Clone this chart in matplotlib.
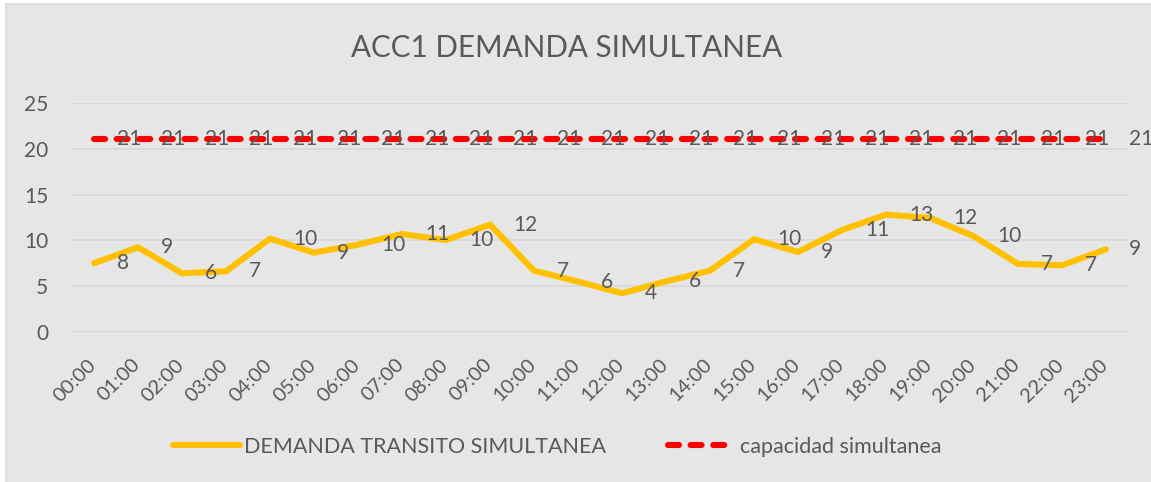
import matplotlib
matplotlib.use("Agg")
import matplotlib.pyplot as plt
from matplotlib.patches import Rectangle
from matplotlib.transforms import ScaledTranslation

hours = ["00:00", "01:00", "02:00", "03:00", "04:00", "05:00", "06:00", "07:00",
         "08:00", "09:00", "10:00", "11:00", "12:00", "13:00", "14:00", "15:00",
         "16:00", "17:00", "18:00", "19:00", "20:00", "21:00", "22:00", "23:00"]
demanda = [7.52, 9.26, 6.43, 6.64, 10.2, 8.67, 9.55, 10.7, 10.05, 11.72, 6.71, 5.52,
           4.25, 5.55, 6.71, 10.13, 8.75, 11.14, 12.81, 12.45, 10.45, 7.44, 7.3, 9.04]
capacidad = [21] * 24
yticks = [0, 5, 10, 15, 20, 25]

title = "ACC1 DEMANDA SIMULTANEA"
name_dem = "DEMANDA TRANSITO SIMULTANEA"
name_cap = "capacidad simultanea"

TXT = "#595959"
BG = "#e7e6e6"
GRID = "#d9d9d9"
FONT = "Lato"

plt.rcParams['font.family'] = [FONT, 'DejaVu Sans']

W, H = 1151, 482
fig = plt.figure(figsize=(W / 100, H / 100), dpi=100, facecolor="white")
fig.patches.append(Rectangle((6 / W, -0.1), 1.2, 1.1 - 4 / H, transform=fig.transFigure,
                             facecolor=BG, edgecolor=GRID, linewidth=1.2, zorder=-10))

ax = fig.add_axes([72 / W, 1 - 332.3 / H, (1128 - 72) / W, (332.3 - 102.7) / H])
ax.patch.set_visible(False)
x = list(range(len(hours)))

ax.plot(x, demanda, color="#FFC000", lw=4.4, solid_capstyle="round",
        solid_joinstyle="round", label=name_dem, zorder=3)
ax.plot(x, capacidad, color="#FF0000", lw=4.4, dashes=(1.8, 1.9),
        dash_capstyle="round", label=name_cap, zorder=3)

for xi, v in zip(x, demanda):
    ax.annotate(f"{round(v):d}", (xi, v), xytext=(23, 0), textcoords="offset pixels",
                ha="left", va="center", fontsize=15, color=TXT, zorder=5,
                annotation_clip=False)
for xi, v in zip(x, capacidad):
    ax.annotate(f"{v:d}", (xi, v), xytext=(23, 0), textcoords="offset pixels",
                ha="left", va="center", fontsize=15, color=TXT, zorder=5,
                annotation_clip=False)

ax.set_xlim(-0.5, len(hours) - 0.5)
ax.set_ylim(0, 25)
ax.set_yticks(yticks)
ax.set_yticklabels([str(t) for t in yticks], fontsize=15, color=TXT)
ax.set_xticks(x)
ax.set_xticklabels(hours, fontsize=14.5, color=TXT, rotation=45, ha="right",
                   rotation_mode="anchor")
ax.tick_params(axis="y", length=0, pad=17)
ax.tick_params(axis="x", length=0, pad=17)
shift = ScaledTranslation(-7 / 100, 0, fig.dpi_scale_trans)
for lab in ax.get_xticklabels():
    lab.set_transform(lab.get_transform() + shift)
ax.grid(axis="y", color=GRID, lw=1.3, zorder=1)
for s in ax.spines.values():
    s.set_visible(False)
ax.set_axisbelow(True)

fig.text(567 / W, 1 - 48 / H, title, ha="center", va="center", fontsize=21.3, color=TXT)

leg = fig.legend(loc="center", bbox_to_anchor=(557 / W, 1 - 447 / H), ncol=2,
                 frameon=False, fontsize=15.5, labelcolor=TXT, handlelength=3.1,
                 handletextpad=0.2, columnspacing=2.9)

fig.savefig("out.png", dpi=100, facecolor=fig.get_facecolor())
